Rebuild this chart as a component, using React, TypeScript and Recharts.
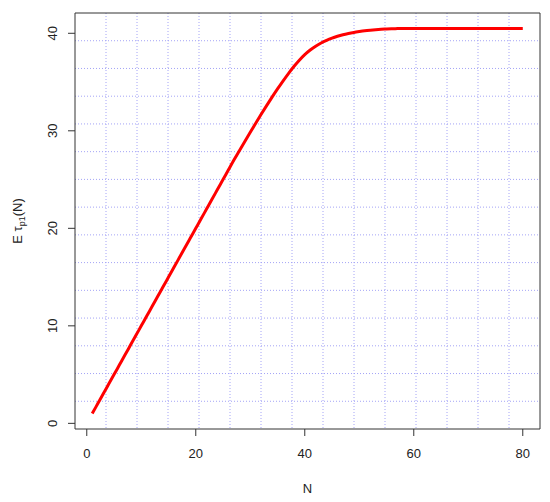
import { LineChart, Line, XAxis, YAxis, CartesianGrid, ReferenceArea } from 'recharts';

// N = 1..80
const nValues = Array.from({ length: 80 }, (_, i) => i + 1);

// E tau(N)
const tauValues = [
  1, 2, 3, 4, 5, 6, 7, 8, 9, 10,
  11, 12, 13, 14, 15, 16, 17, 18, 19, 20,
  21, 22, 23, 24, 25, 26, 27.0, 27.96, 28.91, 29.85,
  30.78, 31.69, 32.58, 33.45, 34.29, 35.1, 35.87, 36.59, 37.24, 37.81,
  38.28, 38.68, 39.0, 39.27, 39.5, 39.69, 39.85, 39.98, 40.09, 40.18,
  40.26, 40.32, 40.37, 40.41, 40.44, 40.465, 40.48, 40.49, 40.5, 40.5,
  40.5, 40.5, 40.5, 40.5, 40.5, 40.5, 40.5, 40.5, 40.5, 40.5,
  40.5, 40.5, 40.5, 40.5, 40.5, 40.5, 40.5, 40.5, 40.5, 40.5,
];

const xTicks = [0, 20, 40, 60, 80];
const yTicks = [0, 10, 20, 30, 40];

// R style 4% padding around the data range
const xDomain = [-2.16, 83.16];
const yDomain = [-0.58, 42.08];

const data = nValues.map((n, i) => ({ n, tau: tauValues[i] }));

const FONT = '"Liberation Sans", Arial, sans-serif';
const GRID_DIVS = 15;

export default function App() {
  return (
    <div style={{ position: 'absolute', left: 0, top: 0, background: '#fff' }}>
      <LineChart
        width={550}
        height={502}
        data={data}
        margin={{ top: 13, right: 10, left: 0, bottom: 0 }}
      >
        <CartesianGrid
          stroke="#a4a4f6"
          strokeDasharray="1 2"
          verticalCoordinatesGenerator={({ offset }: any) =>
            Array.from({ length: GRID_DIVS - 1 }, (_, k) => offset.left + ((k + 1) * offset.width) / GRID_DIVS)
          }
          horizontalCoordinatesGenerator={({ offset }: any) =>
            Array.from({ length: GRID_DIVS - 1 }, (_, k) => offset.top + ((k + 1) * offset.height) / GRID_DIVS)
          }
        />
        <XAxis
          dataKey="n"
          type="number"
          domain={xDomain}
          ticks={xTicks}
          allowDataOverflow
          height={73}
          axisLine={false}
          tickSize={7}
          tickMargin={13}
          tickLine={{ stroke: '#333' }}
          tick={{ fontSize: 13, fontFamily: FONT, fill: '#222' }}
          label={{
            value: 'N',
            position: 'insideBottom',
            offset: 9,
            style: { fontSize: 13, fontFamily: FONT, fill: '#222' },
          }}
        />
        <YAxis
          type="number"
          domain={yDomain}
          ticks={yTicks}
          allowDataOverflow
          width={75}
          axisLine={false}
          tickSize={7}
          tickMargin={16}
          tickLine={{ stroke: '#333' }}
          tick={{ fontSize: 13, fontFamily: FONT, fill: '#222', angle: -90, textAnchor: 'middle' }}
          label={{
            content: ({ viewBox }: any) => {
              const cx = 22;
              const cy = viewBox.y + viewBox.height / 2;
              return (
                <text
                  x={cx}
                  y={cy}
                  transform={`rotate(-90, ${cx}, ${cy})`}
                  textAnchor="middle"
                  fontSize={13}
                  fontFamily={FONT}
                  fill="#222"
                >
                  E τ
                  <tspan fontSize={9} dy={3}>p1</tspan>
                  <tspan dy={-3}>(N)</tspan>
                </text>
              );
            },
          }}
        />
        <ReferenceArea
          x1={xDomain[0]}
          x2={xDomain[1]}
          y1={yDomain[0]}
          y2={yDomain[1]}
          fill="none"
          stroke="#333"
          strokeWidth={1}
          ifOverflow="visible"
        />
        <Line
          type="monotone"
          dataKey="tau"
          stroke="#ff0000"
          strokeWidth={3}
          dot={false}
          isAnimationActive={false}
        />
      </LineChart>
    </div>
  );
}
